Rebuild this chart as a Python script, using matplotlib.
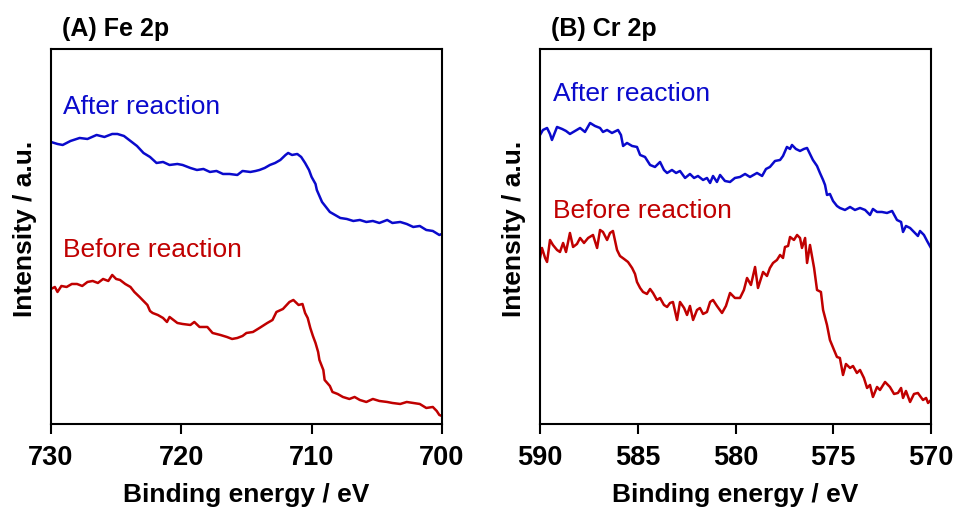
import matplotlib
matplotlib.use("Agg")
import matplotlib.pyplot as plt

plt.rcParams['font.family'] = ['Liberation Sans', 'DejaVu Sans']

# ---- Fe 2p spectra (binding energy / eV, intensity a.u.) ----
fe_after_x = [730.0, 729.5, 729.1, 728.5, 727.8, 727.2, 726.5, 725.9, 725.3, 724.9,
              724.4, 723.9, 723.4, 722.9, 722.4, 721.9, 721.4, 720.9, 720.3, 719.9,
              719.3, 718.8, 718.3, 717.8, 717.3, 716.8, 716.3, 715.7, 715.3, 714.7,
              714.3, 714.0, 713.6, 713.2, 712.8, 712.4, 712.0, 711.8, 711.5, 711.1,
              710.8, 710.5, 710.2, 710.0, 709.7, 709.6, 709.4, 709.2, 708.9, 708.6,
              708.2, 707.8, 707.3, 706.8, 706.3, 705.8, 705.3, 704.8, 704.2, 703.8,
              703.2, 702.7, 702.2, 701.7, 701.2, 700.7, 700.2, 700.0]
fe_after_y = [282, 280, 279, 283, 286, 285, 289, 287, 290, 290,
              288, 283, 278, 271, 267, 261, 262, 259, 260, 259,
              256, 254, 255, 252, 253, 250, 250, 249, 253, 252,
              253, 254, 256, 259, 261, 264, 269, 271, 269, 270,
              267, 261, 254, 247, 240, 234, 228, 222, 217, 212,
              209, 206, 205, 203, 204, 202, 203, 201, 204, 201,
              202, 200, 197, 198, 194, 193, 189, 190]

fe_before_x = [730.0, 729.7, 729.5, 729.2, 728.8, 728.4, 728.0, 727.6, 727.2, 726.8,
               726.4, 726.0, 725.6, 725.3, 725.0, 724.7, 724.3, 723.9, 723.6, 723.2,
               722.9, 722.6, 722.4, 722.2, 721.8, 721.4, 721.1, 720.9, 720.3, 719.9,
               719.3, 719.0, 718.6, 718.0, 717.6, 717.0, 716.5, 716.1, 715.7, 715.3,
               715.0, 714.5, 714.0, 713.4, 713.0, 712.7, 712.2, 711.7, 711.4, 711.0,
               710.7, 710.5, 710.3, 710.1, 709.9, 709.7, 709.5, 709.4, 709.1, 709.0,
               708.6, 708.4, 708.0, 707.6, 707.1, 706.7, 706.3, 705.8, 705.3, 704.8,
               704.2, 703.8, 703.2, 702.7, 702.2, 701.7, 701.2, 700.7, 700.4, 700.2,
               700.0]
fe_before_y = [135, 137, 132, 138, 137, 140, 140, 138, 142, 143,
               141, 145, 143, 149, 145, 144, 140, 137, 132, 127,
               123, 119, 113, 111, 109, 106, 102, 107, 101, 100,
               99, 102, 97, 97, 91, 89, 87, 85, 86, 88,
               91, 92, 96, 101, 104, 112, 115, 122, 124, 119,
               120, 111, 106, 96, 88, 81, 72, 64, 54, 44,
               38, 32, 30, 27, 25, 27, 24, 22, 25, 23,
               22, 21, 20, 22, 21, 20, 16, 17, 13, 9,
               8]

# ---- Cr 2p spectra ----
cr_after_x = [590.00, 589.85, 589.64, 589.49, 589.39, 589.23, 589.13, 588.87, 588.67, 588.47,
              588.21, 587.95, 587.70, 587.44, 587.19, 586.93, 586.78, 586.57, 586.32, 586.01,
              585.86, 585.75, 585.55, 585.29, 585.04, 584.88, 584.63, 584.37, 584.12, 583.86,
              583.66, 583.50, 583.25, 583.04, 582.84, 582.58, 582.33, 582.12, 581.92, 581.66,
              581.46, 581.30, 581.15, 580.95, 580.79, 580.54, 580.28, 580.03, 579.77, 579.51,
              579.26, 578.90, 578.64, 578.44, 578.24, 577.98, 577.72, 577.57, 577.37, 577.21,
              577.11, 576.91, 576.70, 576.50, 576.34, 576.19, 576.04, 575.83, 575.68, 575.52,
              575.42, 575.32, 575.17, 575.01, 574.81, 574.66, 574.40, 574.14, 573.89, 573.63,
              573.37, 573.12, 572.97, 572.76, 572.51, 572.25, 571.99, 571.74, 571.53, 571.43,
              571.28, 571.07, 570.82, 570.67, 570.56, 570.36, 570.20, 570.00]
cr_after_y = [289, 294, 296, 290, 284, 292, 297, 295, 293, 290,
              293, 296, 292, 301, 298, 296, 292, 294, 291, 294,
              289, 278, 281, 278, 277, 269, 267, 259, 257, 262,
              254, 251, 254, 251, 253, 246, 250, 246, 248, 244,
              246, 241, 248, 242, 249, 243, 242, 246, 247, 250,
              247, 251, 248, 255, 257, 263, 264, 268, 277, 275,
              279, 275, 273, 275, 276, 270, 264, 258, 251, 244,
              239, 229, 230, 223, 218, 216, 214, 217, 214, 216,
              214, 209, 215, 212, 212, 211, 213, 204, 202, 192,
              198, 196, 191, 188, 193, 189, 183, 176]

cr_before_x = [590.00, 589.90, 589.74, 589.64, 589.49, 589.34, 589.13, 588.98, 588.82, 588.67,
               588.47, 588.31, 588.11, 587.95, 587.75, 587.54, 587.29, 587.08, 586.93, 586.78,
               586.57, 586.42, 586.27, 586.06, 585.91, 585.70, 585.50, 585.29, 585.14, 585.04,
               584.88, 584.73, 584.53, 584.37, 584.22, 584.02, 583.86, 583.66, 583.50, 583.35,
               583.20, 582.99, 582.84, 582.63, 582.48, 582.33, 582.17, 581.97, 581.82, 581.66,
               581.46, 581.30, 581.15, 580.95, 580.69, 580.49, 580.28, 580.03, 579.77, 579.57,
               579.41, 579.21, 579.00, 578.85, 578.59, 578.39, 578.24, 578.08, 577.88, 577.72,
               577.57, 577.47, 577.31, 577.21, 577.01, 576.85, 576.70, 576.60, 576.44, 576.34,
               576.19, 575.98, 575.83, 575.63, 575.52, 575.32, 575.17, 574.96, 574.81, 574.66,
               574.50, 574.35, 574.14, 573.99, 573.79, 573.63, 573.43, 573.27, 573.12, 572.97,
               572.76, 572.61, 572.35, 572.10, 571.89, 571.69, 571.53, 571.43, 571.28, 571.07,
               570.87, 570.67, 570.56, 570.41, 570.25, 570.15, 570.00]
cr_before_y = [166, 176, 166, 162, 184, 179, 174, 172, 181, 172,
               191, 177, 180, 186, 181, 186, 189, 176, 194, 192,
               184, 191, 193, 174, 168, 165, 162, 156, 150, 142,
               136, 132, 130, 135, 131, 124, 126, 119, 117, 121,
               122, 104, 122, 116, 109, 118, 104, 114, 116, 110,
               112, 122, 124, 118, 111, 118, 131, 126, 126, 134,
               146, 139, 157, 136, 152, 148, 156, 161, 164, 169,
               166, 177, 178, 187, 184, 189, 186, 176, 186, 161,
               179, 156, 134, 132, 114, 99, 84, 74, 67, 66,
               49, 60, 56, 58, 51, 54, 46, 36, 39, 27,
               37, 34, 42, 37, 30, 31, 36, 26, 33, 22,
               30, 31, 28, 24, 26, 21, 24]

fe_ticks = [730, 720, 710, 700]
cr_ticks = [590, 585, 580, 575, 570]

BLUE = '#0a0acc'
RED = '#c00000'

fig = plt.figure(figsize=(9.58, 5.08), dpi=100)
ax_a = fig.add_axes([0.0532, 0.1654, 0.4081, 0.7382])
ax_b = fig.add_axes([0.5637, 0.1654, 0.4081, 0.7382])

panels = [
    (ax_a, fe_after_x, fe_after_y, fe_before_x, fe_before_y, (730, 700), fe_ticks,
     '(A) Fe 2p', (729.1, 317), (729.1, 174)),
    (ax_b, cr_after_x, cr_after_y, cr_before_x, cr_before_y, (590, 570), cr_ticks,
     '(B) Cr 2p', (589.33, 330), (589.33, 213)),
]

for ax, ax_x, ax_y, bx, by, xlim, ticks, title, after_pos, before_pos in panels:
    ax.plot(ax_x, ax_y, color=BLUE, lw=1.8)
    ax.plot(bx, by, color=RED, lw=1.8)
    ax.set_xlim(*xlim)
    ax.set_ylim(0, 375)
    ax.set_xticks(ticks)
    ax.set_xticklabels([str(t) for t in ticks], fontsize=19.5, fontweight='bold')
    ax.set_yticks([])
    ax.tick_params(axis='x', direction='out', length=7, width=1.5, pad=8)
    for sp in ax.spines.values():
        sp.set_linewidth(1.5)
    ax.set_xlabel('Binding energy / eV', fontsize=19, fontweight='bold', labelpad=9)
    ax.set_ylabel('Intensity / a.u.', fontsize=19, fontweight='bold')
    ax.yaxis.set_label_coords(-0.036, 0.52)
    ax.text(after_pos[0], after_pos[1], 'After reaction', color=BLUE, fontsize=19,
            ha='left', va='center')
    ax.text(before_pos[0], before_pos[1], 'Before reaction', color=RED, fontsize=19,
            ha='left', va='center')
    ax.set_title(title, loc='left', fontsize=18, fontweight='bold', pad=9, x=0.028)

fig.savefig('out.png', dpi=100)
